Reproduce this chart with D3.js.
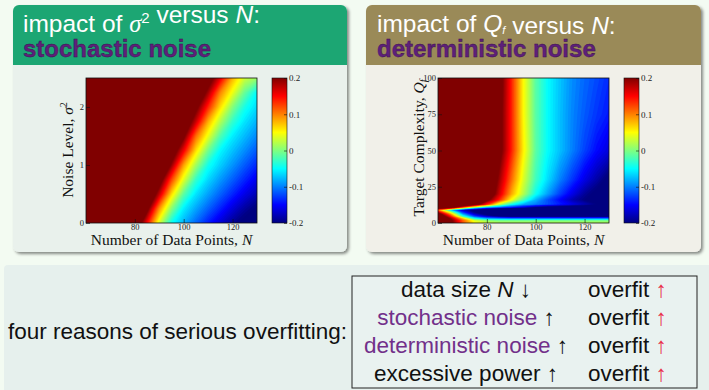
<!DOCTYPE html>
<html>
<head>
<meta charset="utf-8">
<script src="https://cdn.jsdelivr.net/npm/d3@7"></script>
<style>
  body { margin: 0; background: #f3fbf2; }
  svg { display: block; }
</style>
</head>
<body>
<svg id="slide" width="709" height="390"></svg>
<script>
// grid columns: number of data points N
const nValues = [60, 65, 70, 75, 80, 85, 90, 95, 100, 105, 110, 115, 120, 125, 130];

// left plot rows: noise level sigma^2 (bottom to top), overfit measure per cell
const sigmaValues = [0, 0.25, 0.5, 0.75, 1, 1.25, 1.5, 1.75, 2, 2.25, 2.5];
const stochasticOverfit = [
  [0.3, 0.3, 0.3, 0.3, 0.26, 0.15, 0.034, -0.045, -0.08, -0.11, -0.14, -0.168, -0.192, -0.21, -0.22],
  [0.3, 0.3, 0.3, 0.3, 0.3, 0.217, 0.093, 0.004, -0.056, -0.085, -0.112, -0.138, -0.165, -0.188, -0.205],
  [0.3, 0.3, 0.3, 0.3, 0.3, 0.27, 0.174, 0.064, -0.014, -0.06, -0.087, -0.112, -0.136, -0.16, -0.18],
  [0.3, 0.3, 0.3, 0.3, 0.3, 0.3, 0.23, 0.125, 0.038, -0.03, -0.065, -0.09, -0.113, -0.136, -0.158],
  [0.3, 0.3, 0.3, 0.3, 0.3, 0.3, 0.28, 0.192, 0.087, 0.014, -0.043, -0.069, -0.092, -0.115, -0.136],
  [0.3, 0.3, 0.3, 0.3, 0.3, 0.3, 0.3, 0.24, 0.155, 0.063, -0.005, -0.052, -0.074, -0.095, -0.116],
  [0.3, 0.3, 0.3, 0.3, 0.3, 0.3, 0.3, 0.3, 0.21, 0.108, 0.042, -0.019, -0.056, -0.077, -0.097],
  [0.3, 0.3, 0.3, 0.3, 0.3, 0.3, 0.3, 0.3, 0.25, 0.172, 0.082, 0.02, -0.03, -0.06, -0.08],
  [0.3, 0.3, 0.3, 0.3, 0.3, 0.3, 0.3, 0.3, 0.3, 0.215, 0.136, 0.062, 0.002, -0.041, -0.064],
  [0.3, 0.3, 0.3, 0.3, 0.3, 0.3, 0.3, 0.3, 0.3, 0.26, 0.186, 0.098, 0.044, -0.01, -0.05],
  [0.3, 0.3, 0.3, 0.3, 0.3, 0.3, 0.3, 0.3, 0.3, 0.3, 0.23, 0.16, 0.08, 0.03, 0.01]
];

// right plot rows: target complexity Q_f (bottom to top)
const qfValues = [0, 1.5, 3, 4.5, 6, 7.5, 9, 10, 11, 13, 16, 20, 30, 50, 75, 100];
const deterministicOverfit = [
  [0.3, 0.22, 0.12, 0.05, 0.03, 0.02, 0.02, 0.02, 0.02, 0.02, 0.02, 0.02, 0.02, 0.02, 0.02],
  [0.3, 0.22, 0.12, 0.04, 0.01, 0.0, 0.0, 0.0, 0.0, 0.0, 0.0, 0.0, 0.0, 0.0, 0.0],
  [0.3, 0.2, 0.08, -0.04, -0.08, -0.09, -0.1, -0.1, -0.1, -0.1, -0.1, -0.1, -0.1, -0.1, -0.1],
  [0.28, 0.15, -0.02, -0.12, -0.17, -0.2, -0.21, -0.21, -0.21, -0.21, -0.21, -0.21, -0.21, -0.21, -0.21],
  [0.24, 0.1, -0.08, -0.17, -0.21, -0.22, -0.22, -0.22, -0.22, -0.22, -0.22, -0.22, -0.22, -0.22, -0.22],
  [0.18, 0.03, -0.13, -0.2, -0.22, -0.22, -0.22, -0.22, -0.22, -0.22, -0.22, -0.22, -0.22, -0.22, -0.22],
  [0.1, -0.07, -0.17, -0.21, -0.22, -0.22, -0.22, -0.22, -0.22, -0.22, -0.22, -0.22, -0.22, -0.22, -0.22],
  [0.2, 0.12, -0.02, -0.12, -0.18, -0.21, -0.22, -0.22, -0.22, -0.22, -0.22, -0.22, -0.22, -0.22, -0.22],
  [0.3, 0.27, 0.14, 0.02, -0.06, -0.1, -0.13, -0.16, -0.19, -0.21, -0.22, -0.22, -0.22, -0.22, -0.22],
  [0.3, 0.3, 0.3, 0.24, 0.14, 0.03, -0.04, -0.08, -0.1, -0.12, -0.14, -0.16, -0.18, -0.2, -0.21],
  [0.3, 0.3, 0.3, 0.3, 0.22, 0.14, 0.05, -0.02, -0.08, -0.12, -0.15, -0.18, -0.2, -0.21, -0.22],
  [0.3, 0.3, 0.3, 0.3, 0.26, 0.17, 0.085, 0.02, -0.045, -0.088, -0.127, -0.16, -0.19, -0.21, -0.22],
  [0.3, 0.3, 0.3, 0.3, 0.27, 0.19, 0.11, 0.035, -0.025, -0.064, -0.1, -0.13, -0.16, -0.185, -0.21],
  [0.3, 0.3, 0.3, 0.3, 0.28, 0.22, 0.14, 0.055, -0.014, -0.05, -0.075, -0.1, -0.125, -0.148, -0.165],
  [0.3, 0.3, 0.3, 0.3, 0.28, 0.22, 0.14, 0.05, -0.015, -0.05, -0.075, -0.098, -0.115, -0.13, -0.142],
  [0.3, 0.3, 0.3, 0.3, 0.28, 0.225, 0.14, 0.05, -0.015, -0.05, -0.073, -0.095, -0.11, -0.122, -0.135]
];

const nTicks = [80, 100, 120];
const sigmaTicks = [0, 1, 2];
const qfTicks = [0, 25, 50, 75, 100];
const colorTicks = [0.2, 0.1, 0, -0.1, -0.2];

const reasonNames = ["data size", "stochastic noise", "deterministic noise", "excessive power"];
const reasonSymbols = ["N", "", "", ""];
const reasonArrows = ["\u2193", "\u2191", "\u2191", "\u2191"];

const svg = d3.select("#slide");
const sans = "'Liberation Sans', Arial, sans-serif";
const serif = "'Liberation Serif', 'Times New Roman', serif";
const purple = "#5e1f7a";

// jet colour map over the colour bar range
const jet = d3.scaleLinear()
  .domain([-0.2, -0.15, -0.05, 0.05, 0.15, 0.2])
  .range(["#000080", "#0000ff", "#00ffff", "#ffff00", "#ff0000", "#800000"])
  .clamp(true);
const step = 0.005;
const levels = d3.range(-0.2, 0.2 + step / 2, step);

const defs = svg.append("defs");
defs.append("filter").attr("id", "shadow")
  .attr("x", -0.05).attr("y", -0.05).attr("width", 1.1).attr("height", 1.1)
  .append("feDropShadow")
  .attr("dx", 2).attr("dy", 2).attr("stdDeviation", 1.5)
  .attr("flood-color", "#000").attr("flood-opacity", 0.45);

const grad = defs.append("linearGradient").attr("id", "jetbar")
  .attr("x1", 0).attr("y1", 1).attr("x2", 0).attr("y2", 0);
grad.selectAll("stop").data(jet.domain()).join("stop")
  .attr("offset", d => (d + 0.2) / 0.4)
  .attr("stop-color", d => jet(d));

// bottom strip
svg.append("rect").attr("x", 4).attr("y", 265).attr("width", 720).attr("height", 140)
  .attr("rx", 4).attr("fill", "#e6f0ed");

function panel(x0, width, headColor, bodyColor) {
  const g = svg.append("g").attr("filter", "url(#shadow)");
  g.append("rect").attr("x", x0).attr("y", 5).attr("width", width).attr("height", 247)
    .attr("rx", 6).attr("fill", bodyColor);
  g.append("rect").attr("x", x0).attr("y", 5).attr("width", width).attr("height", 60)
    .attr("rx", 6).attr("fill", headColor);
  g.append("rect").attr("x", x0).attr("y", 50).attr("width", width).attr("height", 15)
    .attr("fill", headColor);
}

panel(13, 334, "#1fa673", "#e9f1ec");
panel(366, 335, "#9a8a58", "#f1f0e9");

// header titles
function title(x0, build, second) {
  const t = svg.append("text").attr("x", x0).attr("y", 32)
    .attr("font-family", sans).attr("font-size", 24.5).attr("fill", "#fff");
  t.append("tspan").text("impact of ");
  build(t);
  t.append("tspan").text(" versus ");
  t.append("tspan").attr("font-style", "italic").text("N");
  t.append("tspan").text(":");
  svg.append("text").attr("x", x0).attr("y", 57)
    .attr("font-family", sans).attr("font-size", 24).attr("font-weight", "bold")
    .attr("fill", purple).attr("stroke", "#3a0f50").attr("stroke-width", 0.4)
    .text(second);
}

title(23, t => {
  t.append("tspan").attr("font-family", serif).attr("font-style", "italic").text("\u03c3");
  t.append("tspan").attr("font-size", 15).attr("dy", -9).text("2");
  t.append("tspan").attr("dy", 9).text("");
}, "stochastic noise");

title(377, t => {
  t.append("tspan").attr("font-style", "italic").text("Q");
  t.append("tspan").attr("font-style", "italic").attr("font-size", 11).attr("dy", 2).text("f");
  t.append("tspan").attr("dy", -2).text("");
}, "deterministic noise");

function heatmap(left, grid, rowValues, yDomain, yTicks, clipId) {
  const right = left + 171, top = 78, bottom = 223;
  const x = d3.scaleLinear().domain([60, 130]).range([left, right]);
  const y = d3.scaleLinear().domain(yDomain).range([bottom, top]);

  // contour grid coordinates -> data values (cell centres sit at i + 0.5)
  const colIdx = d3.scaleLinear()
    .domain([0, ...nValues.map((d, i) => i + 0.5), nValues.length])
    .range([nValues[0], ...nValues, nValues[nValues.length - 1]]);
  const rowIdx = d3.scaleLinear()
    .domain([0, ...rowValues.map((d, i) => i + 0.5), rowValues.length])
    .range([rowValues[0], ...rowValues, rowValues[rowValues.length - 1]]);

  const proj = d3.geoTransform({
    point(px, py) { this.stream.point(x(colIdx(px)), y(rowIdx(py))); }
  });
  const path = d3.geoPath(proj);

  const contours = d3.contours()
    .size([nValues.length, rowValues.length])
    .thresholds(levels)(grid.flat());

  defs.append("clipPath").attr("id", clipId)
    .append("rect").attr("x", left).attr("y", top)
    .attr("width", right - left).attr("height", bottom - top);

  const g = svg.append("g").attr("clip-path", `url(#${clipId})`);
  g.append("rect").attr("x", left).attr("y", top)
    .attr("width", right - left).attr("height", bottom - top)
    .attr("fill", jet(-0.2));
  g.selectAll("path").data(contours).join("path")
    .attr("d", path)
    .attr("fill-rule", "evenodd")
    .attr("fill", d => jet(d.value + step / 2));

  svg.append("rect").attr("x", left).attr("y", top)
    .attr("width", right - left).attr("height", bottom - top)
    .attr("fill", "none").attr("stroke", "#111").attr("stroke-width", 0.8);

  const xAxis = svg.append("g").attr("transform", `translate(0,${bottom})`)
    .call(d3.axisBottom(x).tickValues(nTicks).tickSizeInner(-4).tickSizeOuter(0).tickPadding(1));
  const yAxis = svg.append("g").attr("transform", `translate(${left},0)`)
    .call(d3.axisLeft(y).tickValues(yTicks).tickSizeInner(-4).tickSizeOuter(0).tickPadding(2)
      .tickFormat(d => String(d)));
  [xAxis, yAxis].forEach(a => {
    a.select(".domain").remove();
    a.selectAll("line").attr("stroke", "#111").attr("stroke-width", 0.6);
    a.selectAll("text").attr("font-family", serif).attr("font-size", 8.5).attr("fill", "#222");
  });

  svg.append("text").attr("x", (left + right) / 2).attr("y", 244.5)
    .attr("text-anchor", "middle").attr("font-family", serif).attr("font-size", 15.5)
    .attr("fill", "#111")
    .call(t => {
      t.append("tspan").text("Number of Data Points, ");
      t.append("tspan").attr("font-style", "italic").text("N");
    });

  // colour bar
  const cx = right + 15;
  const cy = d3.scaleLinear().domain([-0.2, 0.2]).range([bottom, top]);
  svg.append("rect").attr("x", cx).attr("y", top).attr("width", 15)
    .attr("height", bottom - top).attr("fill", "url(#jetbar)")
    .attr("stroke", "#111").attr("stroke-width", 0.6);
  const cAxis = svg.append("g").attr("transform", `translate(${cx + 15},0)`)
    .call(d3.axisRight(cy).tickValues(colorTicks).tickSizeInner(-3).tickSizeOuter(0)
      .tickPadding(2).tickFormat(d => String(d)));
  cAxis.select(".domain").remove();
  cAxis.selectAll("line").attr("stroke", "#111").attr("stroke-width", 0.6);
  cAxis.selectAll("text").attr("font-family", serif).attr("font-size", 9).attr("fill", "#222");
}

heatmap(86, stochasticOverfit, sigmaValues, [0, 2.5], sigmaTicks, "clipL");
heatmap(438, deterministicOverfit, qfValues, [0, 100], qfTicks, "clipR");

// rotated y titles
svg.append("text").attr("transform", "translate(73,150) rotate(-90)")
  .attr("text-anchor", "middle").attr("font-family", serif).attr("font-size", 15.5).attr("fill", "#111")
  .call(t => {
    t.append("tspan").text("Noise Level, ");
    t.append("tspan").attr("font-style", "italic").text("\u03c3");
    t.append("tspan").attr("font-size", 10).attr("dy", -6).text("2");
  });
svg.append("text").attr("transform", "translate(424,148) rotate(-90)")
  .attr("text-anchor", "middle").attr("font-family", serif).attr("font-size", 15.5).attr("fill", "#111")
  .call(t => {
    t.append("tspan").text("Target Complexity, ");
    t.append("tspan").attr("font-style", "italic").text("Q");
    t.append("tspan").attr("font-style", "italic").attr("font-size", 10).attr("dy", 3).text("f");
  });

// bottom summary
svg.append("text").attr("x", 8).attr("y", 339)
  .attr("font-family", sans).attr("font-size", 22.5).attr("fill", "#111")
  .text("four reasons of serious overfitting:");

svg.append("rect").attr("x", 352).attr("y", 276).attr("width", 345).attr("height", 112)
  .attr("fill", "#e9f2f0").attr("stroke", "#222").attr("stroke-width", 1);

const rowY = d3.scalePoint().domain(d3.range(reasonNames.length)).range([297, 381]);

const leftCol = svg.append("g").selectAll("text").data(reasonNames).join("text")
  .attr("x", 466).attr("y", (d, i) => rowY(i))
  .attr("text-anchor", "middle").attr("font-family", sans).attr("font-size", 22.5)
  .attr("fill", "#111");
leftCol.append("tspan")
  .attr("fill", (d, i) => (i === 1 || i === 2) ? "#72308a" : "#111")
  .text(d => d);
leftCol.append("tspan").attr("font-style", "italic")
  .text((d, i) => reasonSymbols[i] ? " " + reasonSymbols[i] : "");
leftCol.append("tspan").text((d, i) => " " + reasonArrows[i]);

const rightCol = svg.append("g").selectAll("text").data(reasonNames).join("text")
  .attr("x", 588).attr("y", (d, i) => rowY(i))
  .attr("font-family", sans).attr("font-size", 22.5).attr("fill", "#111");
rightCol.append("tspan").text("overfit ");
rightCol.append("tspan").attr("fill", "#e8304a").text("\u2191");
</script>
</body>
</html>
